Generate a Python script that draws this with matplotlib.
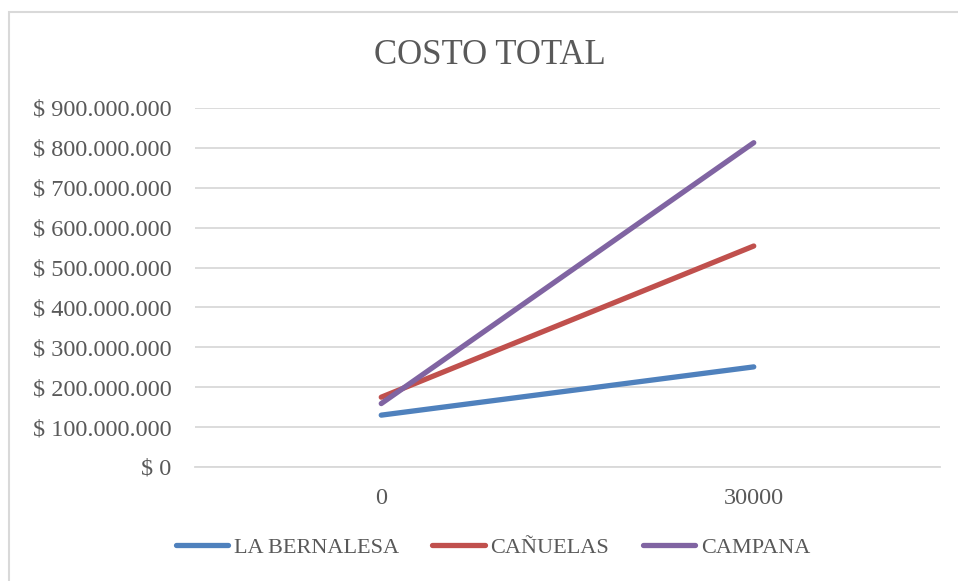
import matplotlib
matplotlib.use("Agg")
import matplotlib.pyplot as plt
from matplotlib.patches import Rectangle
from matplotlib.ticker import FuncFormatter

# costo total por planta, para 0 y 30000 unidades
categorias = ["0", "30000"]
la_bernalesa = [130_000_000, 251_000_000]
canuelas = [175_000_000, 554_000_000]
campana = [159_000_000, 813_000_000]

series = [
    ("LA BERNALESA", la_bernalesa, "#4F81BD"),
    ("CAÑUELAS", canuelas, "#C0504D"),
    ("CAMPANA", campana, "#8064A2"),
]

plt.rcParams["font.family"] = ["Liberation Serif", "DejaVu Serif"]
texto = "#595959"
grilla = "#D9D9D9"

W, H = 958, 581
fig = plt.figure(figsize=(W / 100, H / 100), dpi=100)
ax = fig.add_axes([195 / W, 1 - 467 / H, (940 - 195) / W, (467 - 108) / H])

x = list(range(len(categorias)))
for nombre, valores, color in series:
    ax.plot(x, valores, color=color, lw=3.8, solid_capstyle="round", label=nombre)

ax.set_xlim(-0.5, len(categorias) - 0.5)
ax.set_ylim(0, 900_000_000)
ax.set_yticks(range(0, 900_000_001, 100_000_000))
ax.set_xticks(x)
ax.set_xticklabels(categorias)


def pesos(v, pos):
    if v == 0:
        return "$ 0"
    return "$ " + f"{int(v):,}".replace(",", ".")


ax.yaxis.set_major_formatter(FuncFormatter(pesos))
ax.grid(axis="y", color=grilla, lw=1.3)
ax.set_axisbelow(True)
for lado in ["top", "right", "left"]:
    ax.spines[lado].set_visible(False)
ax.spines["bottom"].set_color(grilla)
ax.spines["bottom"].set_linewidth(1.3)
ax.tick_params(axis="y", length=0, pad=17, labelsize=17.5, labelcolor=texto)
ax.tick_params(axis="x", length=0, pad=15, labelsize=17.5, labelcolor=texto)

fig.text(490 / W, 1 - 55 / H, "COSTO TOTAL", ha="center", va="center",
         fontsize=25, color=texto)

fig.legend(loc="center", bbox_to_anchor=(493 / W, 1 - 548 / H), ncol=3,
           frameon=False, fontsize=16, labelcolor=texto, handlelength=2.35,
           handletextpad=0.27, columnspacing=1.5)

# marco del gráfico
fig.patches.append(Rectangle((9 / W, -0.1), 1.1, (H - 12) / H + 0.1,
                             transform=fig.transFigure, fill=False,
                             edgecolor=grilla, lw=1.5))

fig.savefig("out.png", dpi=100)
